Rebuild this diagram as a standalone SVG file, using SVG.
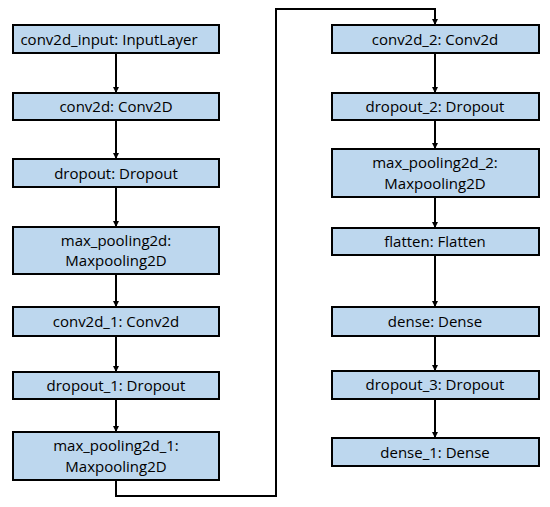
<svg xmlns="http://www.w3.org/2000/svg" width="550" height="507" viewBox="0 0 550 507">
<style>
.box{fill:#BDD7EE;stroke:#000;stroke-width:2}
.t{font-family:"Open Sans","Liberation Sans",sans-serif;font-size:15px;fill:#000;text-anchor:middle}
.c{fill:none;stroke:#000;stroke-width:2}
</style>
<defs>
<marker id="ah" markerWidth="6" markerHeight="6" refX="5" refY="3" orient="auto" markerUnits="userSpaceOnUse">
<path d="M0,0 L6,3 L0,6 Z" fill="#000"/>
</marker>
</defs>
<rect width="550" height="507" fill="#fff"/>
<g id="connectors">
<line class="c" x1="116" y1="53" x2="116" y2="92" marker-end="url(#ah)"/>
<line class="c" x1="116" y1="120" x2="116" y2="158" marker-end="url(#ah)"/>
<line class="c" x1="116" y1="187" x2="116" y2="226" marker-end="url(#ah)"/>
<line class="c" x1="116" y1="274" x2="116" y2="306" marker-end="url(#ah)"/>
<line class="c" x1="116" y1="336" x2="116" y2="371" marker-end="url(#ah)"/>
<line class="c" x1="116" y1="399" x2="116" y2="431" marker-end="url(#ah)"/>
<polyline class="c" points="116,480 116,496 276,496 276,9 435,9 435,24" marker-end="url(#ah)"/>
<line class="c" x1="435" y1="53" x2="435" y2="92" marker-end="url(#ah)"/>
<line class="c" x1="435" y1="120" x2="435" y2="148" marker-end="url(#ah)"/>
<line class="c" x1="435" y1="197" x2="435" y2="227" marker-end="url(#ah)"/>
<line class="c" x1="435" y1="255" x2="435" y2="306" marker-end="url(#ah)"/>
<line class="c" x1="435" y1="336" x2="435" y2="370" marker-end="url(#ah)"/>
<line class="c" x1="435" y1="399" x2="435" y2="437" marker-end="url(#ah)"/>
</g>
<g id="n1"><rect class="box" x="13" y="25" width="206" height="28"/><text class="t" x="109" y="45">conv2d_input: InputLayer</text></g>
<g id="n2"><rect class="box" x="13" y="93" width="206" height="27"/><text class="t" x="116" y="112">conv2d: Conv2D</text></g>
<g id="n3"><rect class="box" x="13" y="159" width="206" height="28"/><text class="t" x="116" y="179">dropout: Dropout</text></g>
<g id="n4"><rect class="box" x="13" y="227" width="206" height="47"/><text class="t" x="116" y="246">max_pooling2d:</text><text class="t" x="116" y="266">Maxpooling2D</text></g>
<g id="n5"><rect class="box" x="13" y="307" width="206" height="29"/><text class="t" x="116" y="327">conv2d_1: Conv2d</text></g>
<g id="n6"><rect class="box" x="13" y="372" width="206" height="27"/><text class="t" x="116" y="391">dropout_1: Dropout</text></g>
<g id="n7"><rect class="box" x="13" y="432" width="206" height="48"/><text class="t" x="116" y="451">max_pooling2d_1:</text><text class="t" x="116" y="472">Maxpooling2D</text></g>
<g id="n8"><rect class="box" x="332" y="25" width="207" height="28"/><text class="t" x="435" y="45">conv2d_2: Conv2d</text></g>
<g id="n9"><rect class="box" x="332" y="93" width="207" height="27"/><text class="t" x="435" y="112">dropout_2: Dropout</text></g>
<g id="n10"><rect class="box" x="332" y="149" width="207" height="48"/><text class="t" x="435" y="168">max_pooling2d_2:</text><text class="t" x="435" y="189">Maxpooling2D</text></g>
<g id="n11"><rect class="box" x="332" y="228" width="207" height="27"/><text class="t" x="435" y="247">flatten: Flatten</text></g>
<g id="n12"><rect class="box" x="332" y="307" width="207" height="29"/><text class="t" x="435" y="327">dense: Dense</text></g>
<g id="n13"><rect class="box" x="332" y="371" width="207" height="28"/><text class="t" x="435" y="390">dropout_3: Dropout</text></g>
<g id="n14"><rect class="box" x="332" y="438" width="207" height="28"/><text class="t" x="435" y="458">dense_1: Dense</text></g>
</svg>
